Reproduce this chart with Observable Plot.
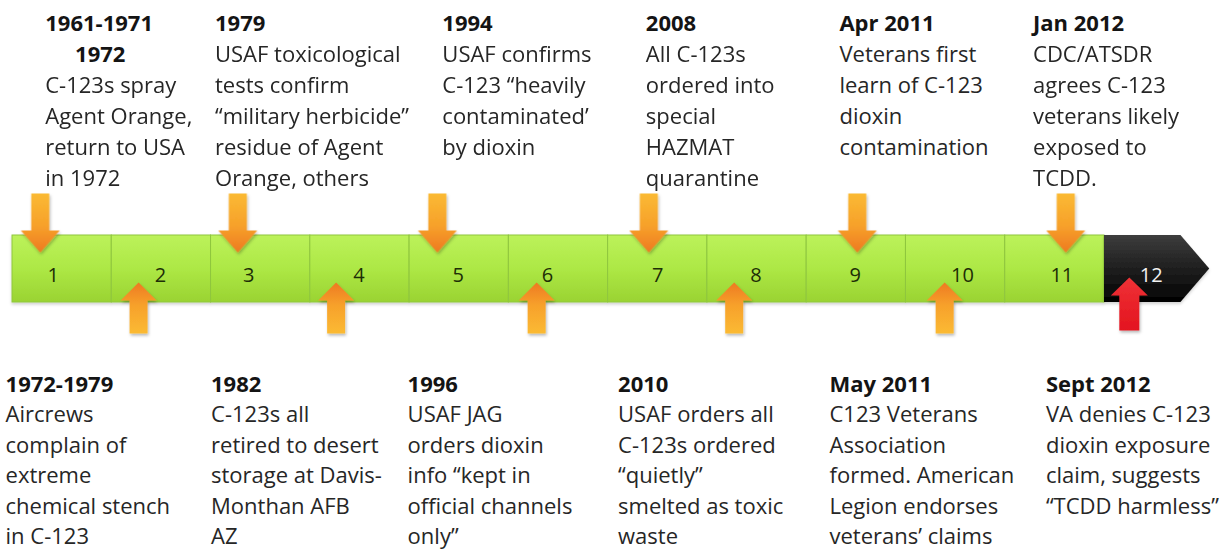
<!DOCTYPE html>
<html>
<head>
<meta charset="utf-8">
<script src="https://cdn.jsdelivr.net/npm/d3@7"></script>
<script src="https://cdn.jsdelivr.net/npm/@observablehq/plot@0.6"></script>
<style>
  html, body { margin: 0; padding: 0; background: #fff; }
  #chart svg { display: block; }
  g[aria-label="vector"] { filter: url(#arrowShadow); }
  g[aria-label="rect"], g[aria-label="area"] { filter: url(#barShadow); }
</style>
</head>
<body>
<div id="chart"></div>
<script>
// ---------------- DATA ----------------
const segments = ["1","2","3","4","5","6","7","8","9","10","11","12"];
// where each segment number sits along the timeline (segment units)
const segmentLabelAt = [0.41, 1.49, 2.38, 3.49, 4.49, 5.39, 6.50, 7.49, 8.49, 9.57, 10.57, 11.47];

const topDates    = ["1961-1971", "1979", "1994", "2008", "Apr 2011", "Jan 2012"];
const topSubDates = ["1972", "", "", "", "", ""];
const topTexts = [
  "C-123s spray\nAgent Orange,\nreturn to USA\nin 1972",
  "USAF toxicological\ntests confirm\n“military herbicide”\nresidue of Agent\nOrange, others",
  "USAF confirms\nC-123 “heavily\ncontaminated’\nby dioxin",
  "All C-123s\nordered into\nspecial\nHAZMAT\nquarantine",
  "Veterans first\nlearn of C-123\ndioxin\ncontamination",
  "CDC/ATSDR\nagrees C-123\nveterans likely\nexposed to\nTCDD."
];
// positions along the timeline (segment units, 0 = start of segment 1)
const topArrowAt = [0.28, 2.27, 4.28, 6.41, 8.51, 10.61];
const topTextAt  = [0.33, 2.04, 4.33, 6.38, 8.33, 10.28];

const bottomDates = ["1972-1979", "1982", "1996", "2010", "May 2011", "Sept 2012"];
const bottomTexts = [
  "Aircrews\ncomplain of\nextreme\nchemical stench\nin C-123",
  "C-123s all\nretired to desert\nstorage at Davis-\nMonthan AFB\nAZ",
  "USAF JAG\norders dioxin\ninfo “kept in\nofficial channels\nonly”",
  "USAF orders all\nC-123s ordered\n“quietly”\nsmelted as toxic\nwaste",
  "C123 Veterans\nAssociation\nformed. American\nLegion endorses\nveterans’ claims",
  "VA denies C-123\ndioxin exposure\nclaim, suggests\n“TCDD harmless”"
];
const bottomArrowAt = [1.27, 3.26, 5.28, 7.27, 9.39, 11.25];
const bottomTextAt  = [-0.07, 2.0, 3.98, 6.10, 8.23, 10.41];

// ---------------- TABLES ----------------
const segs = segments.map((s, i) => ({label: s, i, x1: i, x2: i + 1, labelAt: segmentLabelAt[i]}));
const greenSegs = segs.slice(0, segs.length - 1);
const lastSeg = segs[segs.length - 1];
const HEAD_BODY = 0.77, HEAD_TIP = 1.06; // shape of the final arrow segment
const headPts = [
  {x: lastSeg.x1, y1: -1, y2: 1},
  {x: lastSeg.x1 + HEAD_BODY, y1: -1, y2: 1},
  {x: lastSeg.x1 + HEAD_TIP, y1: 0, y2: 0}
];
const topEvents = topDates.map((d, i) => ({date: d, sub: topSubDates[i], body: topTexts[i], at: topArrowAt[i], textAt: topTextAt[i]}));
const bottomEvents = bottomDates.map((d, i) => ({date: d, body: bottomTexts[i], at: bottomArrowAt[i], textAt: bottomTextAt[i]}));
const isLast = d => d.at >= lastSeg.x1;

// ---------------- STYLE ----------------
const FONT = "Open Sans";
const FS = 22;
const LH_TOP = 31 / 22;
const LH_BOT = 30.5 / 22;
const TEXT = "#262626";

function blockArrow(shaftHalf, headHalf, headLen) {
  return {
    draw(ctx, l) {
      const b = -(l - headLen);
      ctx.moveTo(-shaftHalf, 0);
      ctx.lineTo(-shaftHalf, b);
      ctx.lineTo(-headHalf, b);
      ctx.lineTo(0, -l);
      ctx.lineTo(headHalf, b);
      ctx.lineTo(shaftHalf, b);
      ctx.lineTo(shaftHalf, 0);
      ctx.closePath();
    }
  };
}

function defs() {
  const g = document.createElementNS("http://www.w3.org/2000/svg", "defs");
  g.innerHTML = `
    <linearGradient id="greenGrad" x1="0" y1="0" x2="0" y2="1">
      <stop offset="0" stop-color="#bcf25b"/>
      <stop offset="0.5" stop-color="#ade845"/>
      <stop offset="1" stop-color="#9ad332"/>
    </linearGradient>
    <linearGradient id="blackGrad" x1="0" y1="0" x2="0" y2="1">
      <stop offset="0" stop-color="#3d3d3d"/>
      <stop offset="0.55" stop-color="#1c1c1c"/>
      <stop offset="1" stop-color="#020202"/>
    </linearGradient>
    <linearGradient id="orangeGrad" x1="0" y1="1" x2="0" y2="0">
      <stop offset="0" stop-color="#fbba33"/>
      <stop offset="0.55" stop-color="#f7a12b"/>
      <stop offset="1" stop-color="#ee7a21"/>
    </linearGradient>
    <linearGradient id="redGrad" x1="0" y1="1" x2="0" y2="0">
      <stop offset="0" stop-color="#e3141f"/>
      <stop offset="1" stop-color="#ef3236"/>
    </linearGradient>
    <filter id="arrowShadow" x="-40%" y="-20%" width="180%" height="140%">
      <feDropShadow dx="1" dy="2" stdDeviation="1.6" flood-color="#000" flood-opacity="0.28"/>
    </filter>
    <filter id="barShadow" x="-5%" y="-20%" width="110%" height="150%">
      <feDropShadow dx="0" dy="2" stdDeviation="1.5" flood-color="#000" flood-opacity="0.18"/>
    </filter>`;
  return g;
}

const topText = {fontFamily: FONT, fontSize: FS, lineHeight: LH_TOP, lineAnchor: "top", textAnchor: "start", fill: TEXT, frameAnchor: "top"};
const botText = {fontFamily: FONT, fontSize: FS, lineHeight: LH_BOT, lineAnchor: "top", textAnchor: "start", fill: TEXT};

const chart = Plot.plot({
  width: 1232,
  height: 552,
  margin: 0,
  style: {background: "#fff", fontFamily: FONT, overflow: "visible"},
  x: {domain: [0, 11], range: [12, 1104], axis: null},
  y: {domain: [-1, 1], range: [302, 235], axis: null},
  marks: [
    defs,
    // timeline bar
    Plot.rect(greenSegs, {x1: "x1", x2: "x2", y1: -1, y2: 1, fill: "url(#greenGrad)", stroke: "#8fc63e", strokeWidth: 1}),
    Plot.areaY(headPts, {x: "x", y1: "y1", y2: "y2", fill: "url(#blackGrad)", curve: "linear"}),
    // segment numbers
    Plot.text(greenSegs, {x: "labelAt", y: 0, text: "label", fontFamily: FONT, fontSize: 20, fill: "#1d2e06", dy: 7}),
    Plot.text([lastSeg], {x: "labelAt", y: 0, text: "label", fontFamily: FONT, fontSize: 20, fill: "#f2f2f2", dy: 7}),
    // arrows above (pointing down)
    Plot.vector(topEvents, {x: "at", y: 1, length: 59, rotate: 180, anchor: "end", dy: 17,
      shape: blockArrow(9, 19.5, 22), fill: "url(#orangeGrad)", stroke: "none"}),
    // arrows below (pointing up)
    Plot.vector(bottomEvents.filter(d => !isLast(d)), {x: "at", y: -1, length: 51, rotate: 0, anchor: "end", dy: -20,
      shape: blockArrow(9, 18, 18), fill: "url(#orangeGrad)", stroke: "none"}),
    Plot.vector(bottomEvents.filter(isLast), {x: "at", y: -1, length: 53, rotate: 0, anchor: "end", dy: -25,
      shape: blockArrow(10, 18.5, 18), fill: "url(#redGrad)", stroke: "none"}),
    // top texts
    Plot.text(topEvents, {...topText, x: "textAt", text: "date", fontWeight: "bold", fill: "#141414", dy: 8}),
    Plot.text(topEvents.filter(d => d.sub), {...topText, x: "textAt", text: "sub", fontWeight: "bold", fill: "#141414", textAnchor: "middle", dx: 55, dy: 39}),
    Plot.text(topEvents.filter(d => !d.sub), {...topText, x: "textAt", text: "body", dy: 39}),
    Plot.text(topEvents.filter(d => d.sub), {...topText, x: "textAt", text: "body", dy: 70}),
    // bottom texts
    Plot.text(bottomEvents, {...botText, x: "textAt", y: -1, text: "date", fontWeight: "bold", fill: "#141414", dy: 67.5}),
    Plot.text(bottomEvents, {...botText, x: "textAt", y: -1, text: "body", dy: 98})
  ]
});

document.getElementById("chart").appendChild(chart);
</script>
</body>
</html>
